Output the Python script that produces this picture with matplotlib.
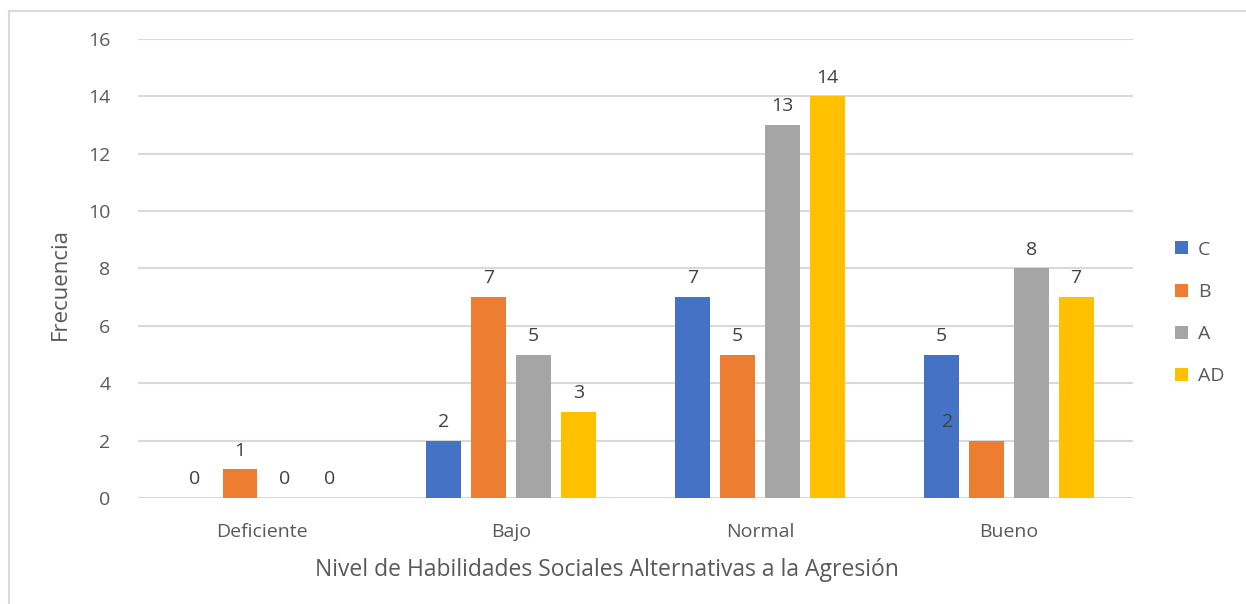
import numpy as np
import matplotlib.pyplot as plt
from matplotlib.lines import Line2D

plt.rcParams['font.family'] = ['Open Sans', 'DejaVu Sans']

categorias = ["Deficiente", "Bajo", "Normal", "Bueno"]
series = ["C", "B", "A", "AD"]
valores_C = [0, 2, 7, 5]
valores_B = [1, 7, 5, 2]
valores_A = [0, 5, 13, 8]
valores_AD = [0, 3, 14, 7]
colores = ["#4472C4", "#ED7D31", "#A5A5A5", "#FFC000"]

datos = [valores_C, valores_B, valores_A, valores_AD]

fig = plt.figure(figsize=(12.46, 6.04), dpi=100)
ax = fig.add_axes([0.1108, 0.1755, 0.7985, 0.76])

# Rahmen: nur oben und links sichtbar (Rest abgeschnitten)
top = 1 - 10.5 / 604
left = 8.5 / 1246
fig.lines.append(Line2D([left, 1.01], [top, top], transform=fig.transFigure,
                        color="#d9d9d9", linewidth=1.5))
fig.lines.append(Line2D([left, left], [-0.01, top], transform=fig.transFigure,
                        color="#d9d9d9", linewidth=1.5))

x = np.arange(len(categorias))
ancho = 0.14
paso = 0.181
for i, (nombre, vals) in enumerate(zip(series, datos)):
    pos = x + (i - 1.5) * paso
    barras = ax.bar(pos, vals, ancho, color=colores[i], label=nombre, zorder=3)
    for j, (b, v) in enumerate(zip(barras, vals)):
        dx = 0
        if nombre == "B" and categorias[j] == "Bueno":
            dx = -28  # Excel hat dieses Label verschoben
        ax.annotate(str(v), (b.get_x() + b.get_width() / 2, v),
                    xytext=(dx, 7), textcoords="offset points",
                    ha="center", va="bottom", fontsize=14, color="#404040")

ax.set_xlim(-0.5, 3.5)
ax.set_ylim(0, 16)
ax.set_yticks(range(0, 17, 2))
ax.set_xticks(x)
ax.set_xticklabels(categorias)
ax.tick_params(length=0, labelsize=14, colors="#595959", pad=18)
ax.tick_params(axis="y", pad=20)
ax.grid(axis="y", color="#d9d9d9", linewidth=1.5, zorder=0)
for s in ax.spines.values():
    s.set_visible(False)

ax.set_xlabel("Nivel de Habilidades Sociales Alternativas a la Agresión",
              fontsize=16.5, color="#595959", va="center")
ax.xaxis.set_label_coords(0.471, -0.157)
ax.set_ylabel("Frecuencia", fontsize=16, color="#595959", va="center")
ax.yaxis.set_label_coords(-0.078, 0.466)

ax.legend(loc="center left", bbox_to_anchor=(1.025, 0.403), frameon=False,
          fontsize=14, labelcolor="#595959", handlelength=0.65, handleheight=0.65,
          labelspacing=1.25, handletextpad=0.5)

fig.savefig("out.png", dpi=100)
